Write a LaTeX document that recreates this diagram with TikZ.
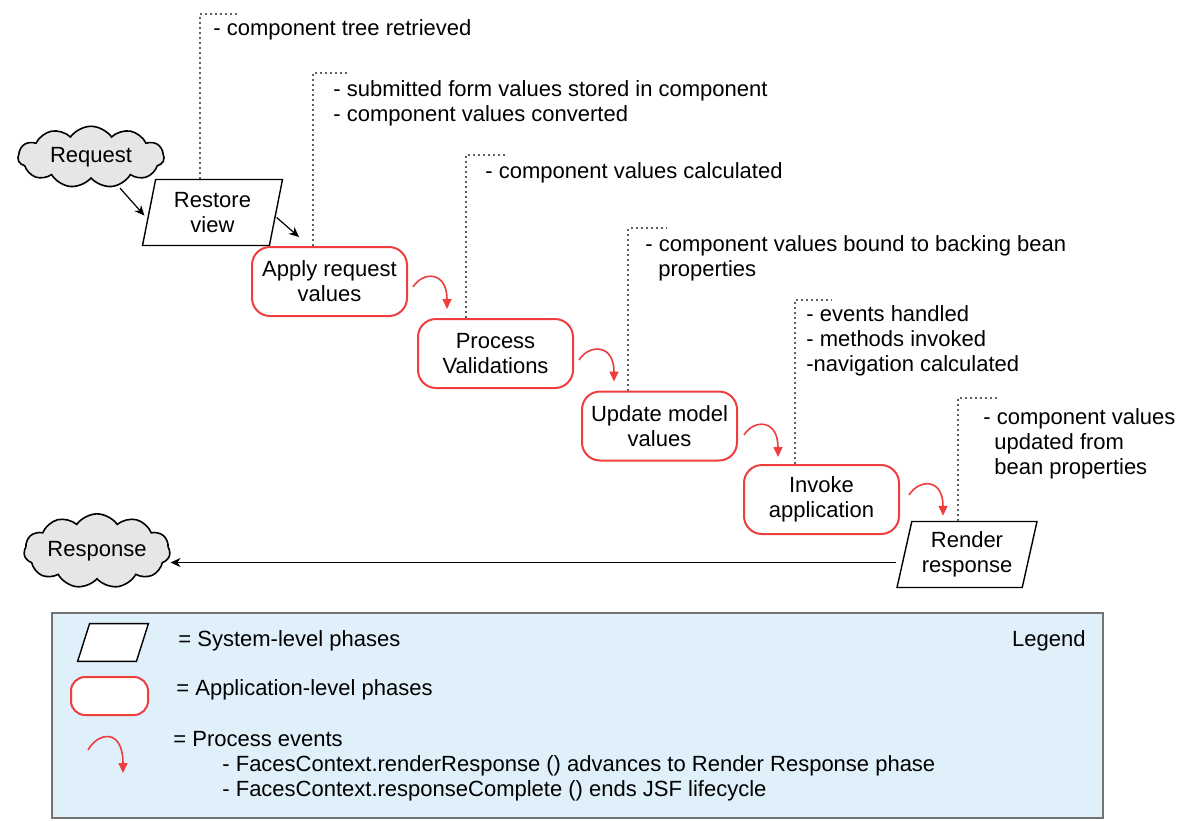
\documentclass[tikz,border=0pt]{standalone}
\usepackage{fontspec}
\setmainfont{Liberation Sans}
\usetikzlibrary{calc,arrows.meta,shapes.geometric,shapes.symbols}

\definecolor{phasered}{RGB}{238,62,62}
\definecolor{legendblue}{RGB}{223,240,251}
\definecolor{cloudgray}{RGB}{230,230,232}
\definecolor{notegray}{RGB}{95,95,95}

\tikzset{
  syslevel/.style={draw=black, line width=0.7pt, fill=white, trapezium, trapezium left angle=72,
    trapezium right angle=108, trapezium stretches body, minimum width=70pt, minimum height=33pt,
    inner sep=0pt, align=center},
  applevel/.style={draw=phasered, line width=1pt, fill=white, rounded corners=9pt,
    minimum width=77.5pt, minimum height=34.5pt, inner sep=0pt, align=center},
  endpoint/.style={cloud, cloud puffs=11, cloud puff arc=110, draw=black, line width=0.8pt,
    fill=cloudgray, aspect=2.5, minimum width=73pt, minimum height=29pt, inner sep=0pt},
  flow/.style={line width=0.6pt, -{Stealth[length=5pt,width=4.5pt]}},
  event/.style={draw=phasered, line width=0.8pt, -{Triangle[length=5pt,width=4.5pt]}},
  note/.style={draw=notegray, line width=1pt, dash pattern=on 1pt off 1.5pt},
  notetext/.style={anchor=north west, inner sep=0pt, align=left},
}

\begin{document}
\begin{tikzpicture}[x=0.5pt, y=-0.5pt, font=\fontsize{11}{12.5}\selectfont]
	%%%%% START %%%%%
	\useasboundingbox (0,0) rectangle (1182,820);

	\node[endpoint] (req) at (91,157) {Request};
	\node[syslevel] (restore) at (212.5,212.5) {Restore\\view};
	\node[applevel] (apply) at (329.5,281.5) {Apply request\\values};
	\node[applevel] (valid) at (495.5,353.5) {Process\\Validations};
	\node[applevel] (update) at (659.5,426) {Update model\\values};
	\node[applevel] (invoke) at (821.5,499.5) {Invoke\\application};
	\node[syslevel] (render) at (967,554.5) {Render\\response};
	\node[endpoint] (resp) at (97,551) {Response};

	\draw[flow] ($(req.south)+(29,9)$) -- ($(restore.west)+(-4,3)$);
	\draw[flow] ($(restore.east)+(0,5)$) -- ($(apply.north west)+(48,-9)$);
	\draw[flow] ($(render.west)+(-8,8)$) coordinate (rs) -- (resp.east |- rs);

	\draw[event] ($(apply.east)+(5,5.5)$) .. controls +(10,-16) and +(0,-38) .. ($(valid.north west)+(30,-9)$);
	\draw[event] ($(valid.east)+(5,6.5)$) .. controls +(10,-16) and +(0,-38) .. ($(update.north west)+(33,-9)$);
	\draw[event] ($(update.east)+(6,9)$) .. controls +(10,-16) and +(0,-38) .. ($(invoke.north west)+(35,-7)$);
	\draw[event] ($(invoke.east)+(9,-4.5)$) .. controls +(10,-16) and +(0,-38) .. ($(render.north)+(-24,-5)$);

	%%%%% NOTES %%%%%
	\coordinate (n1) at (200,14);
	\draw[note] (restore.north -| n1) -- (n1) -- ++(40,0);
	\node[notetext] (t1) at (213,19) {- component tree retrieved};

	\coordinate (n2) at (313,73);
	\draw[note] (apply.north -| n2) -- (n2) -- ++(37,0);
	\node[notetext] (t2) at (333,80) {- submitted form values stored in component\\- component values converted};

	\coordinate (n3) at (466,155);
	\draw[note] (valid.north -| n3) -- (n3) -- ++(39,0);
	\node[notetext] (t3) at (485,162) {- component values calculated};

	\coordinate (n4) at (628,228);
	\draw[note] (update.north -| n4) -- (n4) -- ++(38,0);
	\node[notetext] (t4) at (645,235) {- component values bound to backing bean\\\hspace*{6.5pt}properties};

	\coordinate (n5) at (795,300);
	\draw[note] (invoke.north -| n5) -- (n5) -- ++(37,0);
	\node[notetext] (t5) at (806,305) {- events handled\\- methods invoked\\-navigation calculated};

	\coordinate (n6) at (958,398);
	\draw[note] (render.north -| n6) -- (n6) -- ++(39,0);
	\node[notetext] (t6) at (983,408) {- component values\\\hspace*{5.5pt}updated from\\\hspace*{5.5pt}bean properties};

	%%%%% LEGEND %%%%%
	\draw[line width=1.2pt, draw=black!55, fill=legendblue] (52,613) rectangle (1103,818);
	\node[anchor=east, inner sep=0pt] (legendtitle) at (1086,641) {Legend};

	\node[minimum width=35pt, minimum height=18.5pt, inner sep=0pt] (keysys) at (113,642.5) {};
	\draw[line width=0.7pt, fill=white] (keysys.south west) -- ($(keysys.north west)+(12,0)$)
		-- (keysys.north east) -- ($(keysys.south east)+(-12,0)$) -- cycle;
	\node[anchor=west, inner sep=0pt] (keysystext) at (178,641) {= System-level phases};

	\node[applevel, minimum width=38.5pt, minimum height=19pt, rounded corners=7pt] (keyapp) at (109.5,696) {};
	\node[anchor=west, inner sep=0pt] (keyapptext) at (176,690) {= Application-level phases};

	\coordinate (ka) at (88,750);
	\coordinate (kb) at (123,773);
	\draw[event] (ka) .. controls +(10,-18) and +(0,-45) .. (kb);
	\node[notetext] (keyevtext) at (173,731) {= Process events\\\hspace*{24.5pt}- FacesContext.renderResponse () advances to Render Response phase\\\hspace*{24.5pt}- FacesContext.responseComplete () ends JSF lifecycle};
	%%%%% END %%%%%
\end{tikzpicture}
\end{document}
